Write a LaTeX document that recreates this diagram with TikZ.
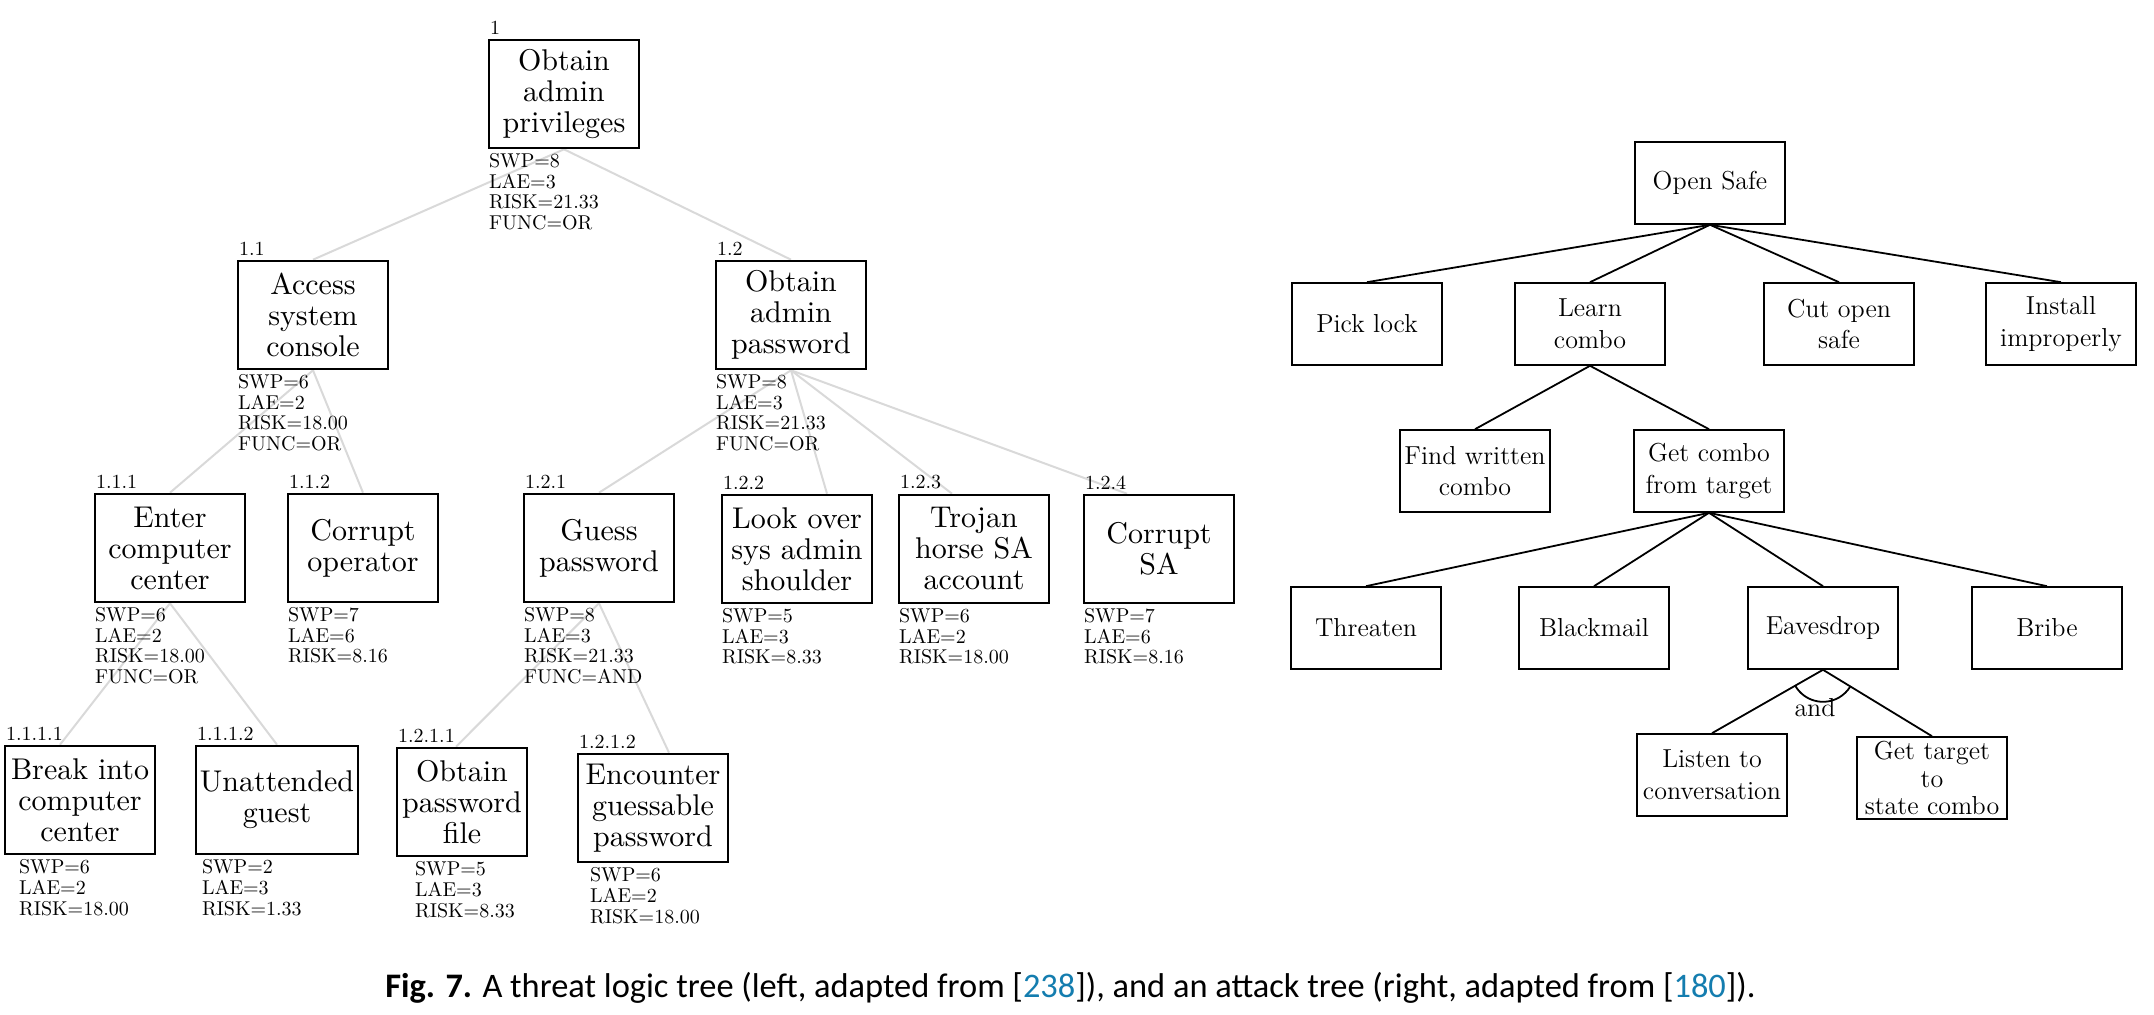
\documentclass[tikz,border=0pt]{standalone}
\usepackage{fontspec}
\newfontfamily\capfont{Carlito}
\newfontfamily\cmten{lmroman10-regular.otf}
\usetikzlibrary{backgrounds}
\definecolor{refblue}{RGB}{20,125,175}

\begin{document}
\begin{tikzpicture}[x=0.5pt,y=-0.5pt,
    tlt/.style={draw,line width=1.3pt,minimum width=75pt,minimum height=54pt,inner sep=2pt,align=center,font=\cmten\fontsize{15}{15.5}\selectfont},
    att/.style={draw,line width=0.8pt,minimum width=75pt,minimum height=41pt,inner sep=2pt,align=center,font=\fontsize{13}{15.8}\selectfont},
    num/.style={anchor=south west,inner xsep=1pt,inner ysep=2pt,font=\fontsize{10}{10}\selectfont},
    stats/.style={anchor=north west,inner xsep=0.5pt,inner ysep=2pt,align=left,font=\fontsize{10}{10.3}\selectfont},
    link/.style={black!15,line width=1pt},
    edge/.style={line width=0.9pt}]
    \useasboundingbox (0,0) rectangle (2154,1015);

    % Threat logic tree
    \node[tlt] (n1) at (564,94) {Obtain\\admin\\privileges};
    \node[num] (l1) at (n1.north west) {1};
    \node[stats] (s1) at (n1.south west) {SWP=8\\LAE=3\\RISK=21.33\\FUNC=OR};

    \node[tlt] (n11) at (313,315) {Access\\system\\console};
    \node[num] (l11) at (n11.north west) {1.1};
    \node[stats] (s11) at (n11.south west) {SWP=6\\LAE=2\\RISK=18.00\\FUNC=OR};

    \node[tlt] (n12) at (791,315) {Obtain\\admin\\password};
    \node[num] (l12) at (n12.north west) {1.2};
    \node[stats] (s12) at (n12.south west) {SWP=8\\LAE=3\\RISK=21.33\\FUNC=OR};

    \node[tlt] (n111) at (170,548) {Enter\\computer\\center};
    \node[num] (l111) at (n111.north west) {1.1.1};
    \node[stats] (s111) at (n111.south west) {SWP=6\\LAE=2\\RISK=18.00\\FUNC=OR};

    \node[tlt] (n112) at (363,548) {Corrupt\\operator};
    \node[num] (l112) at (n112.north west) {1.1.2};
    \node[stats] (s112) at (n112.south west) {SWP=7\\LAE=6\\RISK=8.16};

    \node[tlt] (n121) at (599,548) {Guess\\password};
    \node[num] (l121) at (n121.north west) {1.2.1};
    \node[stats] (s121) at (n121.south west) {SWP=8\\LAE=3\\RISK=21.33\\FUNC=AND};

    \node[tlt] (n122) at (797,549) {Look over\\sys admin\\shoulder};
    \node[num] (l122) at (n122.north west) {1.2.2};
    \node[stats] (s122) at (n122.south west) {SWP=5\\LAE=3\\RISK=8.33};

    \node[tlt] (n123) at (974,549) {Trojan\\horse SA\\account};
    \node[num] (l123) at (n123.north west) {1.2.3};
    \node[stats] (s123) at (n123.south west) {SWP=6\\LAE=2\\RISK=18.00};

    \node[tlt] (n124) at (1159,549) {Corrupt\\SA};
    \node[num] (l124) at (n124.north west) {1.2.4};
    \node[stats] (s124) at (n124.south west) {SWP=7\\LAE=6\\RISK=8.16};

    \node[tlt] (n1111) at (80,800) {Break into\\computer\\center};
    \node[num] (l1111) at (n1111.north west) {1.1.1.1};
    \node[stats] (s1111) at ([xshift=7pt]n1111.south west) {SWP=6\\LAE=2\\RISK=18.00};

    \node[tlt] (n1112) at (277,800) {Unattended\\guest};
    \node[num] (l1112) at (n1112.north west) {1.1.1.2};
    \node[stats] (s1112) at ([xshift=3pt]n1112.south west) {SWP=2\\LAE=3\\RISK=1.33};

    \node[tlt,minimum width=65pt] (n1211) at (462,802) {Obtain\\password\\file};
    \node[num] (l1211) at (n1211.north west) {1.2.1.1};
    \node[stats] (s1211) at ([xshift=9pt]n1211.south west) {SWP=5\\LAE=3\\RISK=8.33};

    \node[tlt] (n1212) at (653,808) {Encounter\\guessable\\password};
    \node[num] (l1212) at (n1212.north west) {1.2.1.2};
    \node[stats] (s1212) at ([xshift=6pt]n1212.south west) {SWP=6\\LAE=2\\RISK=18.00};

    % Grey links, behind the text
    \begin{scope}[on background layer]
        \draw[link] (n1.south) -- (n11.north);
        \draw[link] (n1.south) -- (n12.north);
        \draw[link] (n11.south) -- (n111.north);
        \draw[link] (n11.south) -- (n112.north);
        \draw[link] (n12.south) -- (n121.north);
        \draw[link] (n12.south) -- ([xshift=15pt]n122.north);
        \draw[link] (n12.south) -- ([xshift=-11pt]n123.north);
        \draw[link] (n12.south) -- ([xshift=-16pt]n124.north);
        \draw[link] (n111.south) -- ([xshift=-10pt]n1111.north);
        \draw[link] (n111.south) -- (n1112.north);
        \draw[link] (n121.south) -- ([xshift=-3pt]n1211.north);
        \draw[link] (n121.south) -- ([xshift=8pt]n1212.north);
    \end{scope}

    % Attack tree
    \node[att] (safe) at (1710,183) {Open Safe};
    \node[att] (pick) at (1367,324) {Pick lock};
    \node[att] (learn) at (1590,324) {Learn\\combo};
    \node[att] (cut) at (1839,324) {Cut open\\safe};
    \node[att] (inst) at (2061,324) {Install\\improperly};
    \node[att] (find) at (1475,471) {Find written\\combo};
    \node[att] (getc) at (1709,471) {Get combo\\from target};
    \node[att] (threat) at (1366,628) {Threaten};
    \node[att] (black) at (1594,628) {Blackmail};
    \node[att] (eaves) at (1823,628) {Eavesdrop};
    \node[att] (bribe) at (2047,628) {Bribe};
    \node[att] (listen) at (1712,775) {Listen to\\conversation};
    \node[att,inner sep=1pt,font=\fontsize{13}{13.6}\selectfont] (gett) at (1932,778) {Get target\\to\\state combo};

    \draw[edge] (safe.south) -- (pick.north);
    \draw[edge] (safe.south) -- (learn.north);
    \draw[edge] (safe.south) -- (cut.north);
    \draw[edge] (safe.south) -- (inst.north);
    \draw[edge] (learn.south) -- (find.north);
    \draw[edge] (learn.south) -- (getc.north);
    \draw[edge] (getc.south) -- (threat.north);
    \draw[edge] (getc.south) -- (black.north);
    \draw[edge] (getc.south) -- (eaves.north);
    \draw[edge] (getc.south) -- (bribe.north);
    \draw[edge] (eaves.south) -- (listen.north);
    \draw[edge] (eaves.south) -- (gett.north);

    % AND arc
    \draw[edge] ([shift={(210:16pt)}]eaves.south) arc[start angle=210,end angle=328,radius=16pt];
    \node[font=\fontsize{13}{15}\selectfont] (andl) at (1815,708) {and};

    % Caption
    \node[anchor=base west,inner sep=0pt,font=\capfont\fontsize{17.2}{20}\selectfont] (cap) at (385,997)
        {\textbf{Fig. 7.} A threat logic tree (left, adapted from [\textcolor{refblue}{238}]), and an attack tree (right, adapted from [\textcolor{refblue}{180}]).};
\end{tikzpicture}
\end{document}
